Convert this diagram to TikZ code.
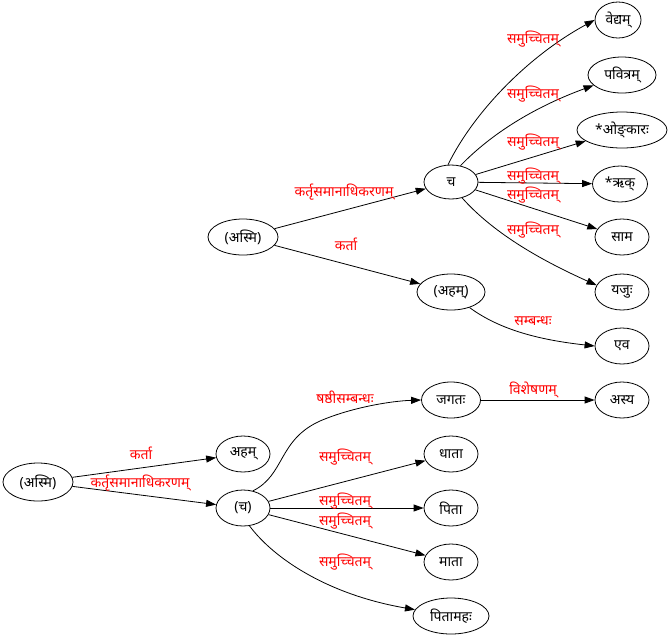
\documentclass[tikz,border=0pt]{standalone}
\usepackage{fontspec}
\newfontfamily\dev[Script=Devanagari]{Noto Sans}
\usetikzlibrary{shapes.geometric,arrows.meta}
\begin{document}
\begin{tikzpicture}[x=1pt,y=-1pt,
  nd/.style={draw,ellipse,inner sep=0pt,minimum height=36pt,line width=0.8pt,font=\dev\fontsize{14}{16}\selectfont},
  lb/.style={text=red,inner sep=0pt,font=\dev\fontsize{14}{16}\selectfont},
  ed/.style={draw,line width=0.8pt,-{Triangle[length=10pt,width=7pt]}}]
\useasboundingbox (0,0) rectangle (671,638);
% top graph
\node[nd,minimum width=70pt] (ta) at (243,237) {(अस्मि)};
\node[nd,minimum width=54pt,minimum height=34pt] (tc) at (451,182) {च};
\node[nd,minimum width=68pt] (th) at (451,292) {(अहम्)};
\node[nd,minimum width=46pt] (v1) at (618,20) {वेद्यम्};
\node[nd,minimum width=68pt] (v2) at (622,75) {पवित्रम्};
\node[nd,minimum width=90pt] (v3) at (622,130) {*ओङ्^^^^200cकारः};
\node[nd,minimum width=55pt] (v4) at (620,184) {*ऋक्};
\node[nd,minimum width=54pt] (v5) at (622,237) {साम};
\node[nd,minimum width=54pt] (v6) at (622,292) {यजुः};
\node[nd,minimum width=54pt] (v7) at (622,346) {एव};
\draw[ed] (ta) -- (tc);
\draw[ed] (ta) -- (th);
\draw[ed] (tc.100) .. controls (475,110) and (530,55) .. (v1.west);
\draw[ed] (tc.60) .. controls (495,130) and (540,105) .. (v2.200);
\draw[ed] (tc) -- (v3);
\draw[ed] (tc) -- (v4);
\draw[ed] (tc) -- (v5);
\draw[ed] (tc.-55) .. controls (495,235) and (545,262) .. (v6.165);
\draw[ed] (th.-40) .. controls (500,330) and (540,340) .. (v7.west);
\node[lb] (l1) at (344,192) {कर्तृसमानाधिकरणम्};
\node[lb] (l2) at (346,244) {कर्ता};
\node[lb] (l3) at (533,39) {समुच्चितम्};
\node[lb] (l4) at (533,94) {समुच्चितम्};
\node[lb] (l5) at (533,142) {समुच्चितम्};
\node[lb] (l6) at (533,176) {समुच्चितम्};
\node[lb] (l7) at (533,195) {समुच्चितम्};
\node[lb] (l8) at (533,230) {समुच्चितम्};
\node[lb] (l9) at (533,321) {सम्बन्धः};
% bottom graph
\node[nd,minimum width=70pt,minimum height=38pt] (ba) at (38,482) {(अस्मि)};
\node[nd,minimum width=54pt] (bh) at (243,454) {अहम्};
\node[nd,minimum width=54pt] (bc) at (243,508) {(च)};
\node[nd,minimum width=59pt] (w1) at (451,400) {जगतः};
\node[nd,minimum width=54pt] (w2) at (451,454) {धाता};
\node[nd,minimum width=54pt] (w3) at (451,508) {पिता};
\node[nd,minimum width=54pt] (w4) at (451,562) {माता};
\node[nd,minimum width=76pt] (w5) at (451,616) {पितामहः};
\node[nd,minimum width=54pt] (w6) at (622,400) {अस्य};
\draw[ed] (ba) -- (bh);
\draw[ed] (ba) -- (bc);
\draw[ed] (bc.60) .. controls (285,475) and (278,440) .. (320,421) .. controls (350,408) and (390,401) .. (w1.west);
\draw[ed] (bc) -- (w2);
\draw[ed] (bc) -- (w3);
\draw[ed] (bc) -- (w4);
\draw[ed] (bc.-70) .. controls (275,560) and (330,595) .. (w5.170);
\draw[ed] (w1) -- (w6);
\node[lb] (m1) at (141,453) {कर्ता};
\node[lb] (m2) at (140,483) {कर्तृसमानाधिकरणम्};
\node[lb] (m3) at (345,397) {षष्ठीसम्बन्धः};
\node[lb] (m4) at (345,457) {समुच्चितम्};
\node[lb] (m5) at (345,501) {समुच्चितम्};
\node[lb] (m6) at (345,521) {समुच्चितम्};
\node[lb] (m7) at (345,562) {समुच्चितम्};
\node[lb] (m8) at (533,390) {विशेषणम्};
\end{tikzpicture}
\end{document}
